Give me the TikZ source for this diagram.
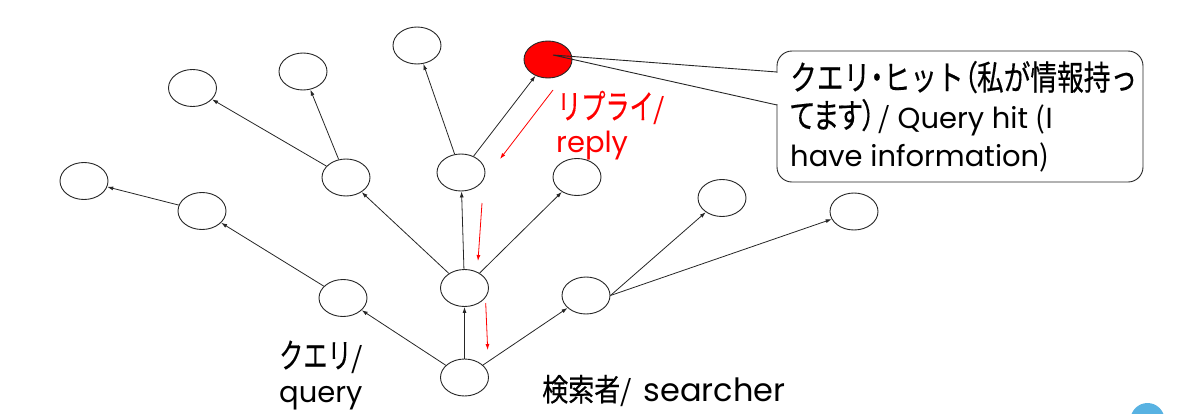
\documentclass[tikz,border=0pt]{standalone}
\usepackage{graphicx}
\usepackage{fontspec}
\setmainfont{Poppins}
\newfontfamily\jp[FakeBold=0.4]{Noto Sans CJK JP}
\newfontfamily\jpp[RawFeature=+palt,FakeBold=0.4]{Noto Sans CJK JP}
\newfontfamily\jpthin{Noto Sans CJK JP}
\usetikzlibrary{arrows.meta,shapes.geometric}
% Japanese in the callout (full width / proportional)
\newcommand\jc[1]{\scalebox{0.785}[1]{\jp\fontsize{34pt}{38pt}\selectfont #1}}
\newcommand\jcp[1]{\scalebox{0.785}[1]{\jpp\fontsize{34pt}{38pt}\selectfont #1}}
% Japanese in the free labels: x-scale, size, text
\newcommand\jl[3]{\scalebox{#1}[1]{\jp\fontsize{#2}{#2}\selectfont #3}}
% thin slash / parentheses
\newcommand\thin[1]{{\jpthin #1}}
\definecolor{bubble}{RGB}{88,178,226}
\begin{document}
\begin{tikzpicture}[x=1pt,y=-1pt,
  peer/.style={ellipse, draw=black!85, line width=0.9pt, minimum width=48pt, minimum height=37pt, inner sep=0pt, fill=white},
  hit/.style={peer, fill=red},
  edge/.style={draw=black!85, line width=0.8pt, -{Latex[length=6pt,width=4pt]}},
  rarrow/.style={draw=red, line width=0.8pt, -{Latex[length=6pt,width=4pt]}},
  lbl/.style={anchor=base west, inner sep=0pt, text depth=0pt, font=\fontsize{29pt}{35pt}\selectfont},
]
\useasboundingbox (0,0) rectangle (1180,413);
\clip (0,0) rectangle (1180,413);

% nodes
\node[peer] (s)    at (464.5,377.5) {};
\node[peer] (m)    at (464.5,288) {};
\node[peer] (l1)   at (343,298) {};
\node[peer] (r1)   at (586,295.5) {};
\node[peer] (a1)   at (346,177.5) {};
\node[peer] (tc)   at (461,172.5) {};
\node[peer] (b1)   at (577,177) {};
\node[hit]  (hitn) at (548,59.5) {};
\node[peer] (c1)   at (417,45.5) {};
\node[peer] (d1)   at (303,71.5) {};
\node[peer] (d2)   at (192.5,88) {};
\node[peer] (e1)   at (202,211) {};
\node[peer] (e2)   at (84,181) {};
\node[peer] (f1)   at (722,198) {};
\node[peer] (f2)   at (854,211.5) {};

% query edges
\draw[edge] (s) -- (l1);
\draw[edge] (s) -- (m);
\draw[edge] (s) -- (r1);
\draw[edge] (m) -- (a1);
\draw[edge] (m) -- (tc);
\draw[edge] (m) -- (b1);
\draw[edge] (l1) -- (e1);
\draw[edge] (e1) -- (e2);
\draw[edge] (a1) -- (d2);
\draw[edge] (a1) -- (d1);
\draw[edge] (tc) -- (c1);
\draw[edge] (tc) -- (hitn);
\draw[edge] (r1.east) -- (f1);
\draw[edge] (r1.east) -- (f2);

% reply arrows
\coordinate (ra1s) at (553,90);  \coordinate (ra1e) at (500,159);
\coordinate (ra2s) at (482,203); \coordinate (ra2e) at (478,261);
\coordinate (ra3s) at (485.7,303); \coordinate (ra3e) at (487.7,350);
\draw[rarrow] (ra1s) -- (ra1e);
\draw[rarrow] (ra2s) -- (ra2e);
\draw[rarrow] (ra3s) -- (ra3e);

% callout
\node[draw=black!85, line width=0.9pt, rounded corners=15pt, fill=white, minimum width=366pt, minimum height=131pt, inner sep=0pt] (callout) at (960,116.5) {};
\coordinate (p1) at (777,72);
\coordinate (p2) at (777,105);
\coordinate (tip) at (553,55);
\fill[white] (775,72.6) rectangle (779.5,104.4);
\draw[draw=black!85, line width=0.9pt] (p1) -- (tip) -- (p2);

\node[lbl] (t1) at (790,90) {\jc{クエリ}\jcp{・}\jc{ヒット}\jcp{（}\jc{私が情報持っ}};
\node[lbl] (t2) at (790,128) {\jcp{てます）}\hspace{3pt}\thin{/} Query hit \thin{(}I};
\node[lbl] (t3) at (790,166) {have information\thin{)}};

% labels
\node[lbl, text=red] (rp1) at (557,119) {\jl{0.71}{34pt}{リプライ}\thin{/}};
\node[lbl, text=red] (rp2) at (556,152) {reply};
\node[lbl] (q1) at (279,368) {\jl{0.71}{34pt}{クエリ}\thin{/}};
\node[lbl] (q2) at (279,402) {query};
\node[lbl] (se) at (542,401) {\jl{0.84}{31pt}{検索者}\thin{/}\hspace{12pt}{\fontsize{32pt}{36pt}\selectfont searcher}};

% partial circle at bottom right
\fill[bubble] (1147.5,420) circle (17);
\end{tikzpicture}
\end{document}
